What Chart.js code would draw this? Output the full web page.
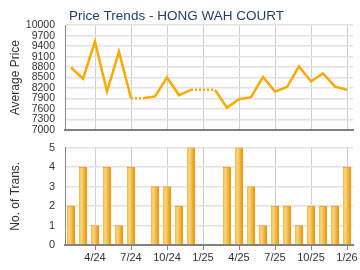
<!DOCTYPE html>
<html>
<head>
<meta charset="utf-8">
<script src="https://cdn.jsdelivr.net/npm/chart.js@4.4.1/dist/chart.umd.min.js"></script>
<style>
  html, body { margin: 0; padding: 0; background: #fff; }
  #wrap { position: relative; width: 360px; height: 270px; overflow: hidden; }
  .box { position: absolute; left: 0; width: 360px; }
</style>
</head>
<body>
<div id="wrap">
  <div class="box" style="top:0;height:135px"><canvas id="priceChart"></canvas></div>
  <div class="box" style="top:135px;height:135px"><canvas id="transChart"></canvas></div>
</div>
<script>
// months shown on the x axis, 2/24 .. 1/26
const months = ['2/24','3/24','4/24','5/24','6/24','7/24','8/24','9/24','10/24','11/24','12/24',
  '1/25','2/25','3/25','4/25','5/25','6/25','7/25','8/25','9/25','10/25','11/25','12/25','1/26'];
// average price (null = no transaction that month)
const prices = [8790, 8470, 9530, 8100, 9240, 7910, null, 7960, 8500, 8000, 8150,
  null, null, 7640, 7880, 7940, 8520, 8100, 8230, 8820, 8390, 8620, 8240, 8150];
// number of transactions
const trans = [2, 4, 1, 4, 1, 4, 0, 3, 3, 2, 5, 0, 0, 4, 5, 3, 1, 2, 2, 1, 2, 2, 2, 4];
const priceTicks = [7000, 10000, 300];
const transTicks = [0, 5, 1];

const font = "'Liberation Sans', Arial, sans-serif";
const showTick = i => i % 3 === 2;

// the line keeps the last price through empty months, drawn dotted
let last = null;
const lineData = prices.map(p => { if (p !== null) last = p; return last; });

// fixed axis width, and no extra room above/below for the tick labels
const fitY = s => { s.width = 65; s.paddingTop = 0; s.paddingBottom = 0; };

new Chart(document.getElementById('priceChart'), {
  type: 'line',
  data: {
    labels: months,
    datasets: [{
      data: lineData,
      borderColor: '#ffa800',
      borderWidth: 2.5,
      pointRadius: 0,
      tension: 0,
      segment: {
        borderDash: c => prices[c.p1DataIndex] === null ? [2, 2] : undefined
      }
    }]
  },
  options: {
    responsive: true,
    maintainAspectRatio: false,
    animation: false,
    layout: { padding: { left: 0, right: 7, top: 0, bottom: 0 } },
    plugins: {
      legend: { display: false },
      tooltip: { enabled: false },
      title: {
        display: true,
        text: 'Price Trends - HONG WAH COURT',
        color: '#1f3d5f',
        font: { family: font, size: 13.5, weight: 'normal' },
        padding: { top: 8.5, bottom: 0.5 }
      }
    },
    scales: {
      x: {
        offset: true,
        grid: {
          offset: false,
          drawTicks: false,
          color: c => showTick(c.index) ? '#d0d0d0' : 'rgba(0,0,0,0)'
        },
        border: { color: '#808080', width: 2 },
        ticks: { display: false },
        afterFit: s => { s.height = 5; }
      },
      y: {
        min: priceTicks[0],
        max: priceTicks[1],
        grid: { drawTicks: false, color: '#e2e2e2', lineWidth: 1.5 },
        border: { color: '#888', width: 1 },
        ticks: {
          stepSize: priceTicks[2],
          autoSkip: false,
          padding: 10,
          color: '#333',
          font: { family: font, size: 10.5 },
          callback: v => String(v)
        },
        title: {
          display: true,
          text: 'Average Price',
          color: '#333',
          font: { family: font, size: 12 },
          padding: { top: 8, bottom: 0 }
        },
        afterFit: fitY
      }
    }
  }
});

function barFill(c) {
  const chart = c.chart;
  if (!chart.chartArea || !chart.scales.x) return '#f5b53a';
  const x = chart.scales.x.getPixelForValue(c.dataIndex);
  const g = chart.ctx.createLinearGradient(x - 4, 0, x + 4, 0);
  g.addColorStop(0, '#f3b640');
  g.addColorStop(0.25, '#fcd483');
  g.addColorStop(0.5, '#f8c55c');
  g.addColorStop(0.75, '#eea628');
  g.addColorStop(1, '#de9512');
  return g;
}

new Chart(document.getElementById('transChart'), {
  type: 'bar',
  data: {
    labels: months,
    datasets: [{
      data: trans,
      backgroundColor: barFill,
      borderColor: '#e8a325',
      borderWidth: { top: 1, left: 0, right: 1, bottom: 0 },
      barThickness: 8
    }]
  },
  options: {
    responsive: true,
    maintainAspectRatio: false,
    animation: false,
    layout: { padding: { left: 0, right: 7, top: 12.5, bottom: 0 } },
    plugins: { legend: { display: false }, tooltip: { enabled: false } },
    scales: {
      x: {
        grid: {
          offset: false,
          tickLength: 5,
          color: c => showTick(c.index) ? '#d0d0d0' : 'rgba(0,0,0,0)',
          tickColor: c => showTick(c.index) ? '#808080' : 'rgba(0,0,0,0)'
        },
        border: { color: '#808080', width: 2 },
        ticks: {
          autoSkip: false,
          maxRotation: 0,
          padding: 1,
          color: '#333',
          font: { family: font, size: 11 },
          callback: (v, i) => showTick(i) ? months[i] : ''
        },
        afterFit: s => { s.height = 25; }
      },
      y: {
        min: transTicks[0],
        max: transTicks[1],
        grid: { drawTicks: false, color: '#e2e2e2', lineWidth: 1.5 },
        border: { color: '#888', width: 1 },
        ticks: {
          stepSize: transTicks[2],
          autoSkip: false,
          padding: 10,
          color: '#333',
          font: { family: font, size: 11 }
        },
        title: {
          display: true,
          text: 'No. of Trans.',
          color: '#333',
          font: { family: font, size: 12 },
          padding: { top: 8, bottom: 0 }
        },
        afterFit: fitY
      }
    }
  }
});
</script>
</body>
</html>
